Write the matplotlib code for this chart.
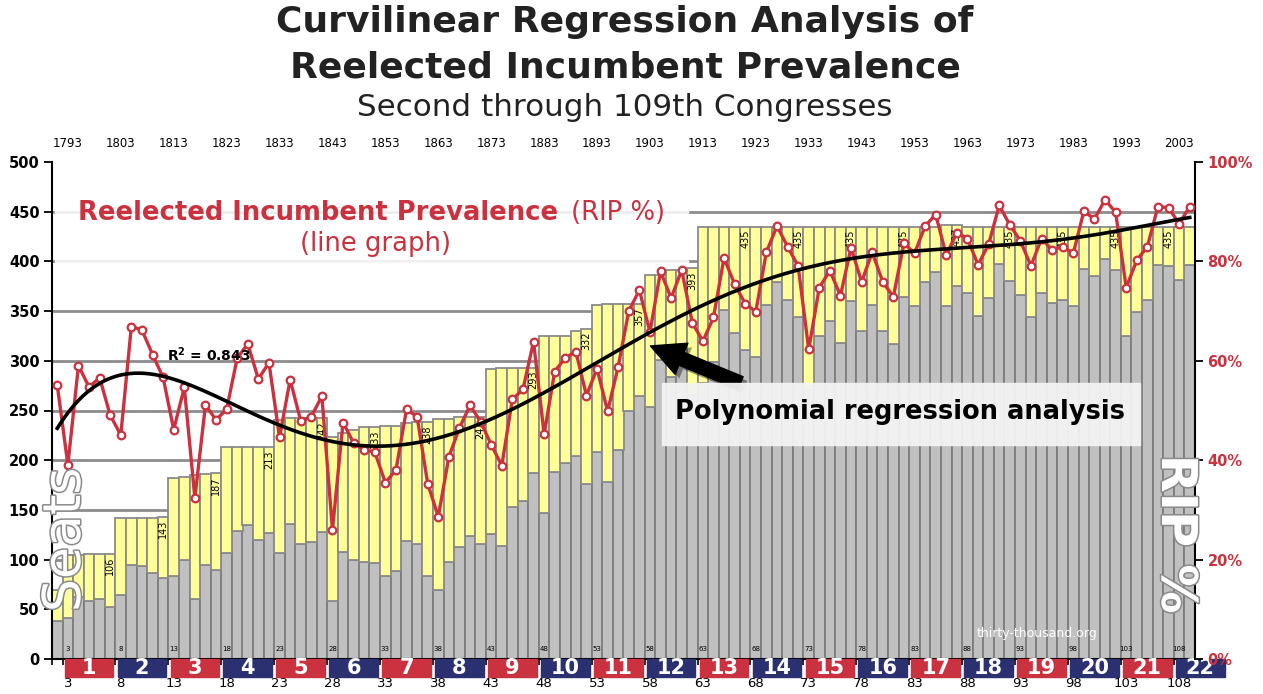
import numpy as np
import matplotlib.pyplot as plt
from matplotlib.patches import Rectangle
import matplotlib.patheffects as pe

# Congresses 2 .. 109
congress = list(range(2, 110))

# total House seats per congress (bar height)
seats = [69,
         105, 105, 106, 106, 106,
         142, 142, 142, 142, 143,
         182, 183, 185, 186, 187,
         213, 213, 213, 213, 213,
         240, 242, 242, 242, 242,
         223, 227, 230, 233, 233,
         234, 234, 237, 238, 238,
         241, 241, 243, 243, 243,
         292, 293, 293, 293, 293,
         325, 325, 325, 330, 332,
         356, 357, 357, 357, 357,
         386, 386, 391, 391, 393,
         435, 435, 435, 435, 435, 435, 435, 435, 435, 435,
         435, 435, 435, 435, 435, 435, 435, 435, 435, 435,
         435, 435, 435, 437, 437,
         435, 435, 435, 435, 435, 435, 435, 435, 435, 435,
         435, 435, 435, 435, 435, 435, 435, 435, 435, 435,
         435, 435]

# reelected incumbents per congress (gray part of bar)
reelected = [38,
             41, 62, 58, 60, 52,
             64, 95, 94, 87, 81,
             84, 100, 60, 95, 90,
             107, 129, 135, 120, 127,
             107, 136, 116, 118, 128,
             58, 108, 100, 98, 97,
             83, 89, 119, 116, 84,
             69, 98, 113, 124, 116,
             126, 114, 153, 159, 187,
             147, 188, 197, 204, 176,
             208, 178, 210, 250, 265,
             254, 301, 284, 306, 266,
             278, 299, 351, 328, 311, 304, 356, 379, 361, 344,
             271, 325, 340, 318, 360, 330, 356, 330, 317, 364,
             355, 379, 389, 355, 375,
             368, 345, 363, 397, 380, 366, 344, 368, 358, 361,
             355, 392, 385, 402, 391, 325, 349, 361, 396, 395,
             381, 396]

group_numbers = list(range(1, 23))
group_congress = list(range(3, 109, 5))
year_labels = list(range(1793, 2004, 10))
labelled_bars = list(range(7, 108, 5))

RED = '#c9323e'
NAVY = '#2b3070'

x = np.array(congress)
tot = np.array(seats)
reel = np.array(reelected)
rip = 100 * reel / tot

W, H = 1263, 694
fig = plt.figure(figsize=(W / 100, H / 100), dpi=100)
ax = fig.add_axes([52 / W, 1 - 659 / H, (1195 - 52) / W, (659 - 162) / H])

for yv in range(50, 500, 50):
    ax.axhline(yv, color='#8c8c8c', lw=2, zorder=1)

ax.bar(x, reel, width=1.0, color='#c0c0c0', edgecolor='#7d7d7d', lw=1.3, zorder=2)
ax.bar(x, tot - reel, bottom=reel, width=1.0, color='#ffff99',
       edgecolor='#8a8a8a', lw=1.3, zorder=2)

for c in labelled_bars:
    s = seats[congress.index(c)]
    ax.text(c, s - 3, str(s), rotation=90, ha='center', va='top',
            fontsize=7, zorder=3)

ax.set_xlim(1.5, 109.5)
ax.set_ylim(0, 500)
ax.set_yticks(range(0, 501, 50))
ax.tick_params(axis='y', direction='out', length=6, width=1.3, labelsize=10.5, pad=3)
for lab in ax.get_yticklabels():
    lab.set_fontweight('bold')
ax.set_xticks(np.arange(1.5, 110, 1))
ax.set_xticklabels([])
ax.tick_params(axis='x', direction='out', length=4, width=1.2)
for sp in ['top', 'right']:
    ax.spines[sp].set_visible(False)
for sp in ['left', 'bottom']:
    ax.spines[sp].set_linewidth(1.5)

xt = ax.get_xaxis_transform()
for n, c in zip(group_numbers, group_congress):
    col = RED if n % 2 else NAVY
    ax.add_patch(Rectangle((c + 2 - 2.3, -0.037), 4.6, 0.036, transform=xt,
                           color=col, clip_on=False, zorder=5))
    ax.text(c + 2, -0.019, str(n), transform=xt, ha='center', va='center',
            color='white', fontsize=15, fontweight='bold', clip_on=False, zorder=6)
    ax.text(c, -0.05, str(c), transform=xt, ha='center', va='center',
            fontsize=9.5, clip_on=False)
    ax.text(c, 0.02, str(c), transform=xt, ha='center', va='center',
            fontsize=5, zorder=3)

for yr, c in zip(year_labels, group_congress):
    ax.text(c, 1.038, str(yr), transform=xt, ha='center', va='center', fontsize=8.5)

# RIP % on the right axis
ax2 = ax.twinx()
ax2.set_ylim(0, 100)
ax2.plot(x, rip, color=RED, lw=2.4, marker='o', ms=5.5, mfc='white',
         mec=RED, mew=1.6, zorder=3)
coefs = np.polyfit(x, rip, 6)
xx = np.linspace(2, 109, 400)
ax2.plot(xx, np.polyval(coefs, xx), color='black', lw=2.6, zorder=4)

ax2.set_yticks(range(0, 101, 20))
ax2.set_yticklabels([f'{v}%' for v in range(0, 101, 20)])
ax2.tick_params(axis='y', direction='out', length=6, width=1.3, labelsize=10.5,
                labelcolor=RED, pad=3)
for lab in ax2.get_yticklabels():
    lab.set_fontweight('bold')
for sp in ['top', 'left', 'bottom']:
    ax2.spines[sp].set_visible(False)
ax2.spines['right'].set_linewidth(1.5)

ax2.text(12.4, 61.2, r'R$^{\mathbf{2}}$ = 0.843', fontsize=10, fontweight='bold',
         ha='left', va='center', zorder=5)

ax2.annotate('', xy=(57.8, 63.2), xytext=(66.8, 55.3),
             arrowprops=dict(arrowstyle='simple,head_length=1.1,head_width=1.1,tail_width=0.45',
                             color='black', mutation_scale=22,
                             path_effects=[pe.SimplePatchShadow(offset=(3, -3), alpha=0.4),
                                           pe.Normal()]),
             zorder=5)

# legend box and texts
fig.patches.append(Rectangle((55 / W, 1 - 262 / H), (688 - 55) / W, 72 / H,
                             transform=fig.transFigure, color='white', alpha=0.85,
                             zorder=2))
fig.text(78 / W, 1 - 213 / H, 'Reelected Incumbent Prevalence', color=RED,
         fontsize=18.6, fontweight='bold', ha='left', va='center')
fig.text(571 / W, 1 - 213 / H, '(RIP %)', color=RED, fontsize=18.6, ha='left', va='center')
fig.text(375 / W, 1 - 244 / H, '(line graph)', color=RED, fontsize=18.6,
         ha='center', va='center')

fig.patches.append(Rectangle((662 / W, 1 - 445 / H), (1140 - 662) / W, 62 / H,
                             transform=fig.transFigure, color='#f3f3f3', alpha=0.95,
                             zorder=2))
fig.text(900 / W, 1 - 412 / H, 'Polynomial regression analysis', fontsize=18.5,
         fontweight='bold', ha='center', va='center')

outline = [pe.withStroke(linewidth=2.2, foreground='#8a8a8a')]
fig.text(66 / W, 1 - 540 / H, 'Seats', rotation=90, fontsize=37.5, color='white',
         ha='center', va='center', path_effects=outline)
fig.text(1176 / W, 1 - 534 / H, 'RIP %', rotation=-90, fontsize=35.5, color='white',
         fontweight='bold', ha='center', va='center', path_effects=outline)
fig.text(1037 / W, 1 - 633 / H, 'thirty-thousand.org', color='white', fontsize=9,
         ha='center', va='center')

fig.text(625 / W, 1 - 22 / H, 'Curvilinear Regression Analysis of', fontsize=26,
         fontweight='bold', ha='center', va='center', color='#222222')
fig.text(625 / W, 1 - 67 / H, 'Reelected Incumbent Prevalence', fontsize=26,
         fontweight='bold', ha='center', va='center', color='#222222')
fig.text(625 / W, 1 - 107 / H, 'Second through 109th Congresses', fontsize=22.3,
         ha='center', va='center', color='#222222')

fig.savefig('out.png', dpi=100)
